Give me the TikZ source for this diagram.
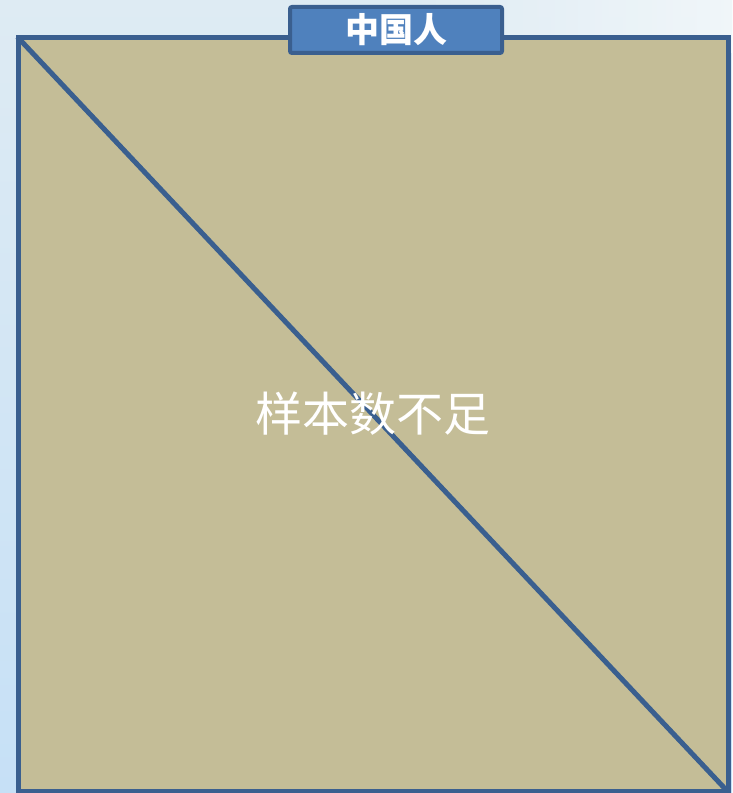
\documentclass[tikz,border=0pt]{standalone}
\usepackage{fontspec}
\newfontfamily\cjk{Noto Sans CJK SC}
\definecolor{bgtop}{RGB}{222,235,243}
\definecolor{bgbot}{RGB}{198,224,246}
\definecolor{panel}{RGB}{196,189,151}
\definecolor{edge}{RGB}{58,95,143}
\definecolor{titlefill}{RGB}{79,129,189}
\tikzset{
  panelbox/.style={draw=edge, line width=5pt, fill=panel, inner sep=0pt, minimum width=709.5pt, minimum height=754pt},
  titlebox/.style={draw=edge, line width=4pt, fill=titlefill, rounded corners=2pt, inner sep=0pt, minimum width=212pt, minimum height=46pt, text=white, font=\cjk\bfseries\fontsize{34}{38}\selectfont},
  bigtext/.style={text=white, inner sep=0pt, font=\cjk\fontsize{47}{52}\selectfont}
}
\begin{document}
\begin{tikzpicture}[x=1pt,y=1pt]
\useasboundingbox (0,0) rectangle (732,793);
\shade[top color=bgtop, bottom color=bgbot] (0,0) rectangle (732,793);
\shade[left color=bgtop, right color=white!70!bgtop, opacity=0.8] (400,740) rectangle (732,793);
\node[panelbox] (panel) at (373.25,378) {};
\draw[edge, line width=5pt, shorten <=2pt, shorten >=2pt] (panel.north west) -- (panel.south east);
\node[bigtext] (msg) at (373,379) {样本数不足};
\node[titlebox] (title) at (396,763) {中国人};
\end{tikzpicture}
\end{document}
